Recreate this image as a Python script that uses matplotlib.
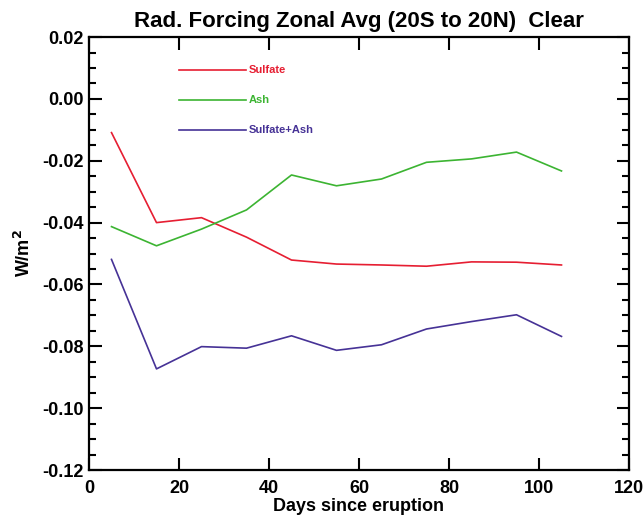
import matplotlib
matplotlib.use("Agg")
import matplotlib.pyplot as plt
from matplotlib.ticker import MultipleLocator

plt.rcParams['font.family'] = ['Liberation Sans', 'DejaVu Sans']
plt.rcParams['font.weight'] = 'bold'

days = [5, 15, 25, 35, 45, 55, 65, 75, 85, 95, 105]
sulfate = [-0.0109, -0.0400, -0.0384, -0.0447, -0.0521, -0.0534, -0.0537, -0.0541, -0.0527, -0.0528, -0.0537]
ash = [-0.0413, -0.0475, -0.0421, -0.0359, -0.0246, -0.0281, -0.0259, -0.0205, -0.0194, -0.0172, -0.0233]
sulfate_ash = [-0.0519, -0.0873, -0.0801, -0.0806, -0.0766, -0.0813, -0.0795, -0.0744, -0.0720, -0.0698, -0.0768]

series_names = ['Sulfate', 'Ash', 'Sulfate+Ash']
colors = ['#e61e32', '#3cb432', '#463296']
legend_y = [0.0093, -0.0004, -0.0101]

fig = plt.figure(figsize=(6.44, 5.16), dpi=100)
ax = fig.add_axes([0.1382, 0.0891, 0.8385, 0.8391])

for vals, c in zip([sulfate, ash, sulfate_ash], colors):
    ax.plot(days, vals, color=c, lw=1.2)

for name, c, ly in zip(series_names, colors, legend_y):
    ax.plot([20, 35], [ly, ly], color=c, lw=1.2)
    ax.text(35.6, ly, name, color=c, fontsize=8, fontweight='bold', va='center', ha='left')

ax.set_xlim(0, 120)
ax.set_ylim(-0.12, 0.02)
ax.xaxis.set_major_locator(MultipleLocator(20))
ax.yaxis.set_major_locator(MultipleLocator(0.02))
ax.yaxis.set_minor_locator(MultipleLocator(0.005))
ax.yaxis.set_major_formatter(plt.FuncFormatter(lambda v, p: f"{v:.2f}"))
ax.tick_params(which='both', direction='in', top=True, right=True, width=1.5, labelsize=13)
ax.tick_params(which='major', length=9)
ax.tick_params(axis='x', which='major', pad=7)
ax.tick_params(axis='y', which='major', pad=4)
ax.tick_params(which='minor', length=5)
for lab in ax.get_xticklabels() + ax.get_yticklabels():
    lab.set_fontweight('bold')
for s in ax.spines.values():
    s.set_linewidth(1.6)

ax.set_xlabel('Days since eruption', fontsize=13, fontweight='bold', labelpad=1)
ax.set_ylabel('W/m$^\\mathbf{2}$', fontsize=13, fontweight='bold', labelpad=6)
ax.set_title('Rad. Forcing Zonal Avg (20S to 20N)  Clear', fontsize=16, fontweight='bold', pad=7)

fig.savefig('out.png', dpi=100)
